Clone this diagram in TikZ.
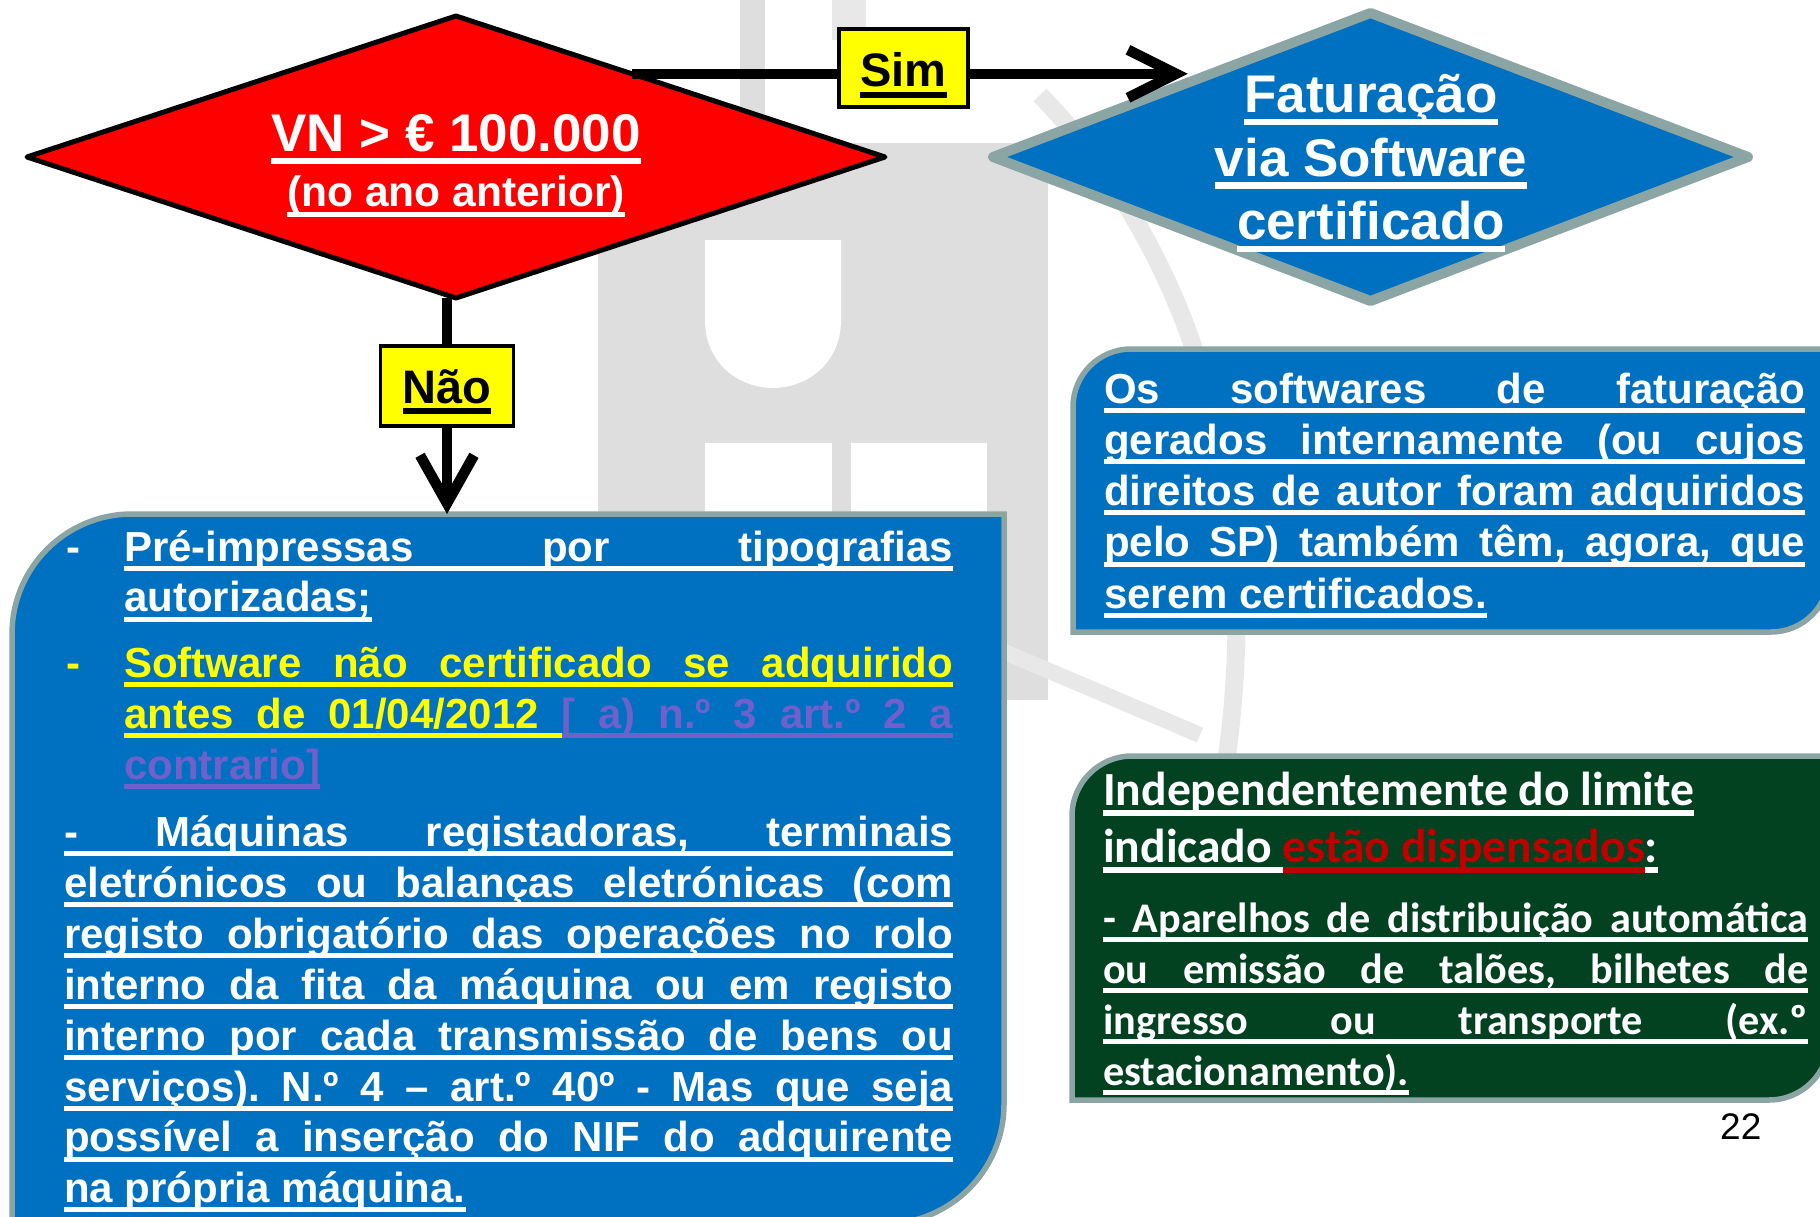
\documentclass[tikz,border=0pt]{standalone}
\usepackage{fontspec}
\setmainfont{Liberation Sans}
\newfontfamily\calib{Carlito}
\usetikzlibrary{shapes.geometric,arrows.meta,calc}
\definecolor{fblue}{RGB}{0,112,192}
\definecolor{fred}{RGB}{255,0,0}
\definecolor{rim}{RGB}{139,164,164}
\definecolor{fgreen}{RGB}{2,66,32}
\definecolor{dred}{RGB}{192,0,0}
\definecolor{purp}{RGB}{112,96,204}
\definecolor{yel}{RGB}{255,255,0}
\definecolor{wmark}{RGB}{222,222,222}
\definecolor{wfaint}{RGB}{232,232,232}
\newsavebox\ulbox
\newcommand\ulr[1]{\rlap{\rule[-0.23em]{#1}{0.12em}}}
\newcommand\uln[1]{\sbox\ulbox{#1}\ulr{\wd\ulbox}\usebox\ulbox}
\newcommand\ulj[2]{\hbox to #1{\ulr{#1}#2}}
\newcommand\ulsp{\leaders\hrule height -0.11em depth 0.23em\hskip 0.278em plus 1fil\relax}
\newcommand\bdash{\hbox to 60pt{\hskip2pt-\hss}}
\newcommand\roundpanel[3]{\draw[panel,fill=#3] (#1.north east) -- ([xshift=#2]#1.north west)
  arc[start angle=90,end angle=180,radius=#2] -- (#1.south west) -- ([xshift=-#2]#1.south east)
  arc[start angle=270,end angle=360,radius=#2] -- cycle;}
\frenchspacing
\begin{document}
\begin{tikzpicture}[x=1pt,y=-1pt,
  conn/.style={line width=10.5pt},
  flag/.style={draw=black,fill=yel,line width=3.5pt,inner sep=0pt,font=\fontsize{47pt}{50pt}\selectfont\bfseries},
  panel/.style={draw=rim,line width=5.5pt},
  boxarea/.style={inner sep=0pt,outer sep=0pt,anchor=north west},
  txt/.style={inner sep=0pt,anchor=base west,text=white},
  decision/.style={diamond,inner sep=0pt,outer sep=0pt,line join=round}]
\useasboundingbox (0,0) rectangle (1820,1217);
\clip (0,0) rectangle (1820,1217);
% faded logo behind
\fill[wmark] (740,0) rectangle (765,150);
\fill[wfaint] (832,0) rectangle (866,40);
\fill[wmark] (598,143) rectangle (1048,700);
\fill[white] (705,240) -- (841,240) -- (841,320) .. controls (841,365) and (805,388) .. (773,388) .. controls (741,388) and (705,365) .. (705,320) -- cycle;
\fill[white] (705,443) rectangle (832,530);
\fill[white] (851,443) rectangle (987,530);
\draw[wfaint,line width=18pt] (1040,95) .. controls (1200,260) and (1265,500) .. (1225,770);
\draw[wfaint,line width=16pt] (1000,650) -- (1200,735);
% panels
\node[boxarea,minimum width=992pt,minimum height=710pt] (lbox) at (12,514) {};
\node[boxarea,minimum width=756pt,minimum height=283pt] (rbox) at (1073,349) {};
\node[boxarea,minimum width=757pt,minimum height=344pt] (gbox) at (1072,756) {};
\roundpanel{lbox}{120pt}{fblue}
\roundpanel{rbox}{58pt}{fblue}
\roundpanel{gbox}{60pt}{fgreen}
% diamonds
\node[decision,draw=black,fill=fred,line width=5pt,minimum width=858pt,minimum height=282pt] (vn) at (456,157) {};
\node[decision,draw=rim,fill=fblue,line width=10pt,minimum width=755pt,minimum height=288pt] (fat) at (1370.5,157) {};
\node[inner sep=0pt,anchor=base,font=\fontsize{53pt}{60pt}\selectfont\bfseries,text=white] (vntitle) at (456,152) {\uln{VN > € 100.000}};
\node[inner sep=0pt,anchor=base,font=\fontsize{42.5pt}{50pt}\selectfont\bfseries,text=white] (vnsub) at (456,207) {\uln{(no ano anterior)}};
\node[inner sep=0pt,anchor=base,text=white] (fattext) at (1371,113) {\vtop{\hsize=400pt \fontsize{53pt}{63.5pt}\selectfont\bfseries
  \hbox to\hsize{\hss\uln{Faturação}\hss}
  \hbox to\hsize{\hss\uln{via Software}\hss}
  \hbox to\hsize{\hss\uln{certificado}\hss}}};
% texts in the panels
\node[txt] (ltext) at (64,561) {\vtop{\hsize=889pt \fontsize{42pt}{50.9pt}\selectfont\bfseries
  \hbox{\bdash\ulj{829pt}{Pré-impressas por tipografias}}
  \hbox{\hskip60pt\uln{autorizadas;}}
  \vskip15pt
  \hbox{\color{yel}\bdash\ulj{829pt}{Software não certificado se adquirido}}
  \hbox to\hsize{\hskip60pt\color{yel}\uln{antes}\ulsp\uln{de}\ulsp\uln{01/04/2012}\ulsp\color{purp}\uln{[}\ulsp\uln{a)}\ulsp\uln{n.º}\ulsp\uln{3}\ulsp\uln{art.º}\ulsp\uln{2}\ulsp\uln{a}}
  \hbox{\hskip60pt\color{purp}\uln{contrario]}}
  \vskip16pt
  \ulj{\hsize}{- Máquinas registadoras, terminais}
  \ulj{\hsize}{eletrónicos ou balanças eletrónicas (com}
  \ulj{\hsize}{registo obrigatório das operações no rolo}
  \ulj{\hsize}{interno da fita da máquina ou em registo}
  \ulj{\hsize}{interno por cada transmissão de bens ou}
  \ulj{\hsize}{serviços). N.º 4 – art.º 40º - Mas que seja}
  \ulj{\hsize}{possível a inserção do NIF do adquirente}
  \hbox{\uln{na própria máquina.}}}};
\node[txt] (rtext) at (1104,403) {\vtop{\hsize=701pt \fontsize{42pt}{51.3pt}\selectfont\bfseries
  \ulj{\hsize}{Os softwares de faturação}
  \ulj{\hsize}{gerados internamente (ou cujos}
  \ulj{\hsize}{direitos de autor foram adquiridos}
  \ulj{\hsize}{pelo SP) também têm, agora, que}
  \hbox{\uln{serem certificados.}}}};
\node[txt] (gtitle) at (1103,805) {\vtop{\calib\fontsize{47.6pt}{57pt}\selectfont\bfseries
  \hbox{\uln{Independentemente do limite}}
  \hbox{\uln{indicado }\color{dred}\uln{estão dispensados}\color{white}\uln{:}}}};
\node[txt] (gtext) at (1103,932) {\vtop{\hsize=705pt \calib\fontsize{42.2pt}{51.2pt}\selectfont\bfseries
  \ulj{\hsize}{- Aparelhos de distribuição automática}
  \ulj{\hsize}{ou emissão de talões, bilhetes de}
  \ulj{\hsize}{ingresso ou transporte (ex.º}
  \hbox{\uln{estacionamento).}}}};
\node[txt,text=black,font=\fontsize{37pt}{40pt}\selectfont] (pgnum) at (1720,1139) {22};
% yes / no labels and arrows
\node[flag,minimum width=129pt,text height=58pt,text depth=20pt] (sim) at (903.5,68) {\uln{Sim}};
\node[flag,minimum width=133pt,text height=57pt,text depth=23pt] (nao) at (447,386) {\uln{Não}};
\coordinate (simfrom) at ($(vn.north)!0.41!(vn.east)$);
\coordinate[xshift=6pt] (simto) at (simfrom -| fat.north west);
\draw[conn] (simfrom) -- (simfrom -| sim.west);
\draw[conn,-{Straight Barb[length=48pt,width=48pt]}] (simfrom -| sim.east) -- (simto);
\draw[conn] (nao.north) -- (nao.north |- vn.south);
\draw[conn,-{Straight Barb[length=48pt,width=54pt]}] (nao.south) -- (nao.south |- lbox.north);
\end{tikzpicture}
\end{document}
